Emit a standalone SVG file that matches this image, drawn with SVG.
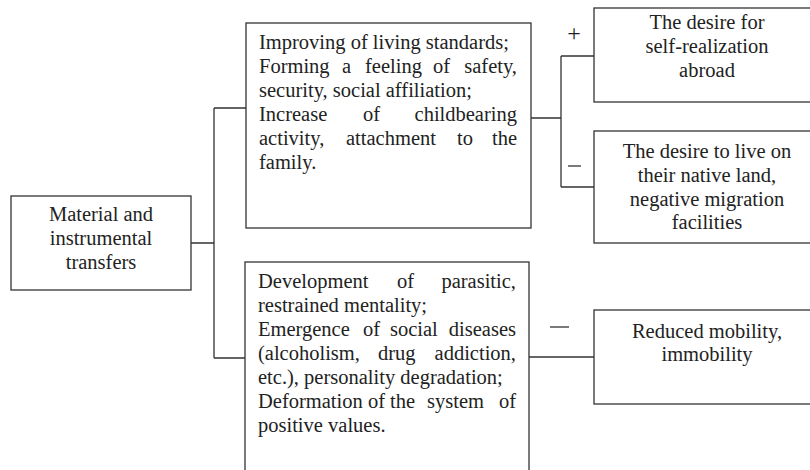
<svg xmlns="http://www.w3.org/2000/svg" width="810" height="470" viewBox="0 0 810 470">
<rect width="810" height="470" fill="#fff"/>
<g id="connectors" fill="none" stroke="#333" stroke-width="1.3">
<path d="M191 243H214M214 108V358M214 108H246M214 358H245"/>
<path d="M531 118H561M561 56V187M561 56H594M561 187H594"/>
<path d="M529 357H594"/>
<path d="M568 166H581"/>
<path d="M550 327H569"/>
</g>
<g id="sign-plus" fill="#222">
<text x="574" y="41" text-anchor="middle" font-family="Liberation Serif" font-size="24">+</text>
</g>
<g id="source" fill="#222">
<rect x="11" y="196" width="180" height="94" fill="#fff" stroke="#333" stroke-width="1.3"/>
<text x="101" y="221" text-anchor="middle" font-family="Liberation Serif" font-size="20.5">Material and</text>
<text x="101" y="245" text-anchor="middle" font-family="Liberation Serif" font-size="20.5">instrumental</text>
<text x="101" y="269" text-anchor="middle" font-family="Liberation Serif" font-size="20.5">transfers</text>
</g>
<g id="positive-effects" fill="#222">
<rect x="246" y="23" width="285" height="205" fill="#fff" stroke="#333" stroke-width="1.3"/>
<text x="259" y="49" font-family="Liberation Serif" font-size="20.5">Improving of living standards;</text>
<text y="73" font-family="Liberation Serif" font-size="20.5"><tspan x="259">Forming</tspan><tspan x="342">a</tspan><tspan x="365">feeling</tspan><tspan x="433">of</tspan><tspan x="517" text-anchor="end">safety,</tspan></text>
<text x="259" y="97" font-family="Liberation Serif" font-size="20.5">security, social affiliation;</text>
<text y="121" font-family="Liberation Serif" font-size="20.5"><tspan x="259">Increase</tspan><tspan x="363">of</tspan><tspan x="517" text-anchor="end">childbearing</tspan></text>
<text y="145" font-family="Liberation Serif" font-size="20.5"><tspan x="259">activity,</tspan><tspan x="346">attachment</tspan><tspan x="457">to</tspan><tspan x="517" text-anchor="end">the</tspan></text>
<text x="259" y="169" font-family="Liberation Serif" font-size="20.5">family.</text>
</g>
<g id="negative-effects" fill="#222">
<rect x="245" y="262" width="284" height="230" fill="#fff" stroke="#333" stroke-width="1.3"/>
<text y="288" font-family="Liberation Serif" font-size="20.5"><tspan x="258">Development</tspan><tspan x="397">of</tspan><tspan x="516" text-anchor="end">parasitic,</tspan></text>
<text x="258" y="312" font-family="Liberation Serif" font-size="20.5">restrained mentality;</text>
<text y="336" font-family="Liberation Serif" font-size="20.5"><tspan x="258">Emergence</tspan><tspan x="363">of</tspan><tspan x="390">social</tspan><tspan x="516" text-anchor="end">diseases</tspan></text>
<text y="360" font-family="Liberation Serif" font-size="20.5"><tspan x="258">(alcoholism,</tspan><tspan x="378">drug</tspan><tspan x="516" text-anchor="end">addiction,</tspan></text>
<text x="258" y="384" font-family="Liberation Serif" font-size="20.5">etc.), personality degradation;</text>
<text y="408" font-family="Liberation Serif" font-size="20.5"><tspan x="258">Deformation</tspan><tspan x="368">of</tspan><tspan x="390">the</tspan><tspan x="427">system</tspan><tspan x="516" text-anchor="end">of</tspan></text>
<text x="258" y="432" font-family="Liberation Serif" font-size="20.5">positive values.</text>
</g>
<g id="self-realization" fill="#222">
<rect x="594" y="8" width="226" height="94" fill="#fff" stroke="#333" stroke-width="1.3"/>
<text x="707" y="29" text-anchor="middle" font-family="Liberation Serif" font-size="20.5">The desire for</text>
<text x="707" y="53" text-anchor="middle" font-family="Liberation Serif" font-size="20.5">self-realization</text>
<text x="707" y="77" text-anchor="middle" font-family="Liberation Serif" font-size="20.5">abroad</text>
</g>
<g id="native-land" fill="#222">
<rect x="594" y="131" width="226" height="112" fill="#fff" stroke="#333" stroke-width="1.3"/>
<text x="707" y="158" text-anchor="middle" font-family="Liberation Serif" font-size="20.5">The desire to live on</text>
<text x="707" y="182" text-anchor="middle" font-family="Liberation Serif" font-size="20.5">their native land,</text>
<text x="707" y="206" text-anchor="middle" font-family="Liberation Serif" font-size="20.5">negative migration</text>
<text x="707" y="229" text-anchor="middle" font-family="Liberation Serif" font-size="20.5">facilities</text>
</g>
<g id="reduced-mobility" fill="#222">
<rect x="594" y="310" width="226" height="94" fill="#fff" stroke="#333" stroke-width="1.3"/>
<text x="707" y="338" text-anchor="middle" font-family="Liberation Serif" font-size="20.5">Reduced mobility,</text>
<text x="707" y="361" text-anchor="middle" font-family="Liberation Serif" font-size="20.5">immobility</text>
</g>
</svg>
